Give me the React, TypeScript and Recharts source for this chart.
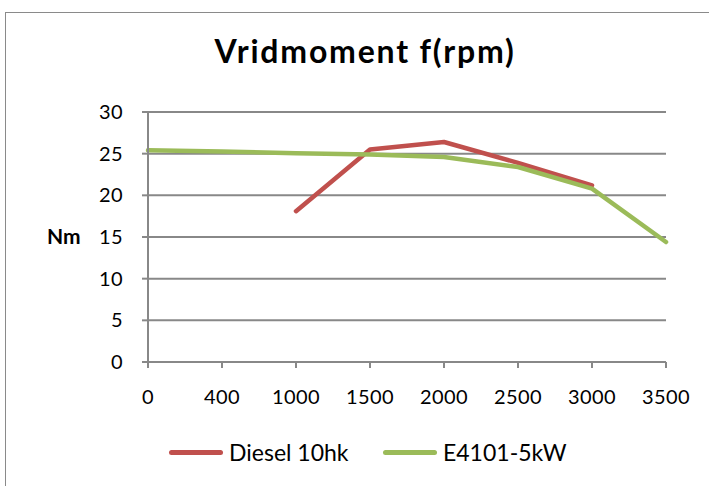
import React from 'react';
import { LineChart, Line, XAxis, YAxis, CartesianGrid, Legend } from 'recharts';

const rpm = ['0', '400', '1000', '1500', '2000', '2500', '3000', '3500'];
const diesel: (number | null)[] = [null, null, 18.1, 25.5, 26.4, 23.9, 21.2, null];
const electric: (number | null)[] = [25.4, 25.25, 25.05, 24.9, 24.6, 23.4, 20.8, 14.4];
const yTicks = [0, 5, 10, 15, 20, 25, 30];

const seriesNames = { diesel: 'Diesel 10hk', electric: 'E4101-5kW' };
const colors = { diesel: '#C0504D', electric: '#9BBB59' };

const data = rpm.map((r, i) => ({ rpm: r, diesel: diesel[i], electric: electric[i] }));

const FONT = 'Lato, "Open Sans", sans-serif';

const LegendContent = () => (
  <div style={{ height: 64, position: 'relative', fontFamily: FONT, fontSize: 23, color: '#000' }}>
    {(['diesel', 'electric'] as const).map((k, i) => (
      <div key={k} style={{ position: 'absolute', left: i === 0 ? 169 : 383, top: 15, height: 30, display: 'flex', alignItems: 'center', whiteSpace: 'nowrap' }}>
        <div style={{ width: 54, height: 5, borderRadius: 3, background: colors[k], marginRight: i === 0 ? 6 : 6 }} />
        <span>{seriesNames[k]}</span>
      </div>
    ))}
  </div>
);

export default function App() {
  return (
    <div style={{ position: 'absolute', left: 0, top: 0, width: 709, height: 486, overflow: 'hidden', background: '#fff' }}>
      <div style={{ position: 'absolute', left: 5, top: 12, width: 800, height: 600, border: '1.5px solid #8a8a8a', boxSizing: 'border-box' }} />
      <div style={{ position: 'absolute', left: 0, width: 730, top: 32, textAlign: 'center', fontFamily: FONT, fontWeight: 700, fontSize: 32, letterSpacing: 1.8, lineHeight: 1.2, color: '#000' }}>
        Vridmoment f(rpm)
      </div>
      <div style={{ position: 'absolute', left: 0, top: 0 }}>
        <LineChart width={709} height={486} data={data} margin={{ top: 112, right: 43, bottom: 0, left: 0 }}>
          <CartesianGrid vertical={false} stroke="#888" strokeWidth={2} />
          <XAxis
            dataKey="rpm"
            height={60}
            stroke="#888"
            strokeWidth={2}
            tickSize={6}
            tickMargin={22}
            tick={{ fill: '#000', fontSize: 20, fontFamily: FONT, letterSpacing: 0.4 }}
            interval={0}
          />
          <YAxis
            width={148}
            domain={[0, 30]}
            ticks={yTicks}
            stroke="#888"
            strokeWidth={2}
            tickSize={6}
            tickMargin={19}
            tick={{ fill: '#000', fontSize: 20, fontFamily: FONT, letterSpacing: 0.4 }}
            label={{ value: 'Nm', position: 'insideLeft', offset: 47, style: { fill: '#000', fontWeight: 700, fontSize: 21, fontFamily: FONT } }}
          />
          <Legend verticalAlign="bottom" content={<LegendContent />} />
          <Line dataKey="diesel" name={seriesNames.diesel} stroke={colors.diesel} strokeWidth={4.5} dot={false} strokeLinecap="round" strokeLinejoin="round" isAnimationActive={false} />
          <Line dataKey="electric" name={seriesNames.electric} stroke={colors.electric} strokeWidth={4.5} dot={false} strokeLinecap="round" strokeLinejoin="round" isAnimationActive={false} />
        </LineChart>
      </div>
    </div>
  );
}
